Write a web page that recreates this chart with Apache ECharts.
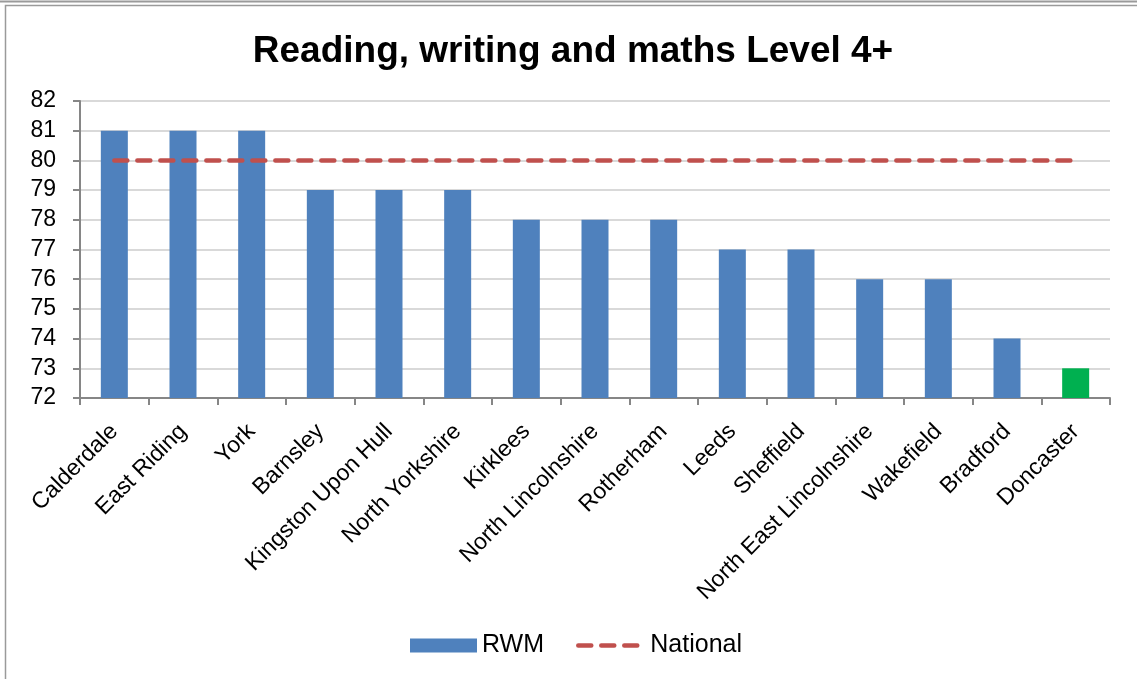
<!DOCTYPE html>
<html>
<head>
<meta charset="utf-8">
<script src="https://cdn.jsdelivr.net/npm/echarts@6/dist/echarts.min.js"></script>
<style>
  html, body { margin: 0; padding: 0; background: #fff; }
  #chart { width: 1137px; height: 679px; }
</style>
</head>
<body>
<div id="chart"></div>
<script>
// Local authorities, ordered by result
const categories = ['Calderdale', 'East Riding', 'York', 'Barnsley', 'Kingston Upon Hull',
  'North Yorkshire', 'Kirklees', 'North Lincolnshire', 'Rotherham', 'Leeds', 'Sheffield',
  'North East Lincolnshire', 'Wakefield', 'Bradford', 'Doncaster'];
// Percentage reaching Level 4+ in reading, writing and maths
const rwmValues = [81, 81, 81, 79, 79, 79, 78, 78, 78, 77, 77, 76, 76, 74, 73];
// National average
const nationalValues = [80, 80, 80, 80, 80, 80, 80, 80, 80, 80, 80, 80, 80, 80, 80];
// Y axis range
const yMin = 72, yMax = 82, yStep = 1;
const highlighted = 'Doncaster';

const FONT = 'Liberation Sans, Arial, sans-serif';
const nationalLine = { color: '#C0504D', width: 4.5, type: [13, 10], cap: 'round' };
const chart = echarts.init(document.getElementById('chart'));

chart.setOption({
  animation: false,
  backgroundColor: '#fff',
  title: {
    text: 'Reading, writing and maths Level 4+',
    left: 568, top: 28, textAlign: 'center',
    textStyle: { fontFamily: FONT, fontSize: 37, fontWeight: 'bold', color: '#000' }
  },
  graphic: [
    { type: 'line', shape: { x1: 0, y1: 1.5, x2: 1137, y2: 1.5 }, style: { stroke: '#9a9a9a', lineWidth: 2 } },
    { type: 'rect', shape: { x: 5.5, y: 5.5, width: 1140, height: 700 }, style: { fill: 'none', stroke: '#9a9a9a', lineWidth: 1.5 } }
  ],
  legend: {
    bottom: 16, left: 405,
    itemWidth: 67, itemHeight: 14, itemGap: 32,
    textStyle: { fontFamily: FONT, fontSize: 25, color: '#000' },
    data: [
      { name: 'RWM', icon: 'rect' },
      { name: 'National', itemStyle: { opacity: 0 }, lineStyle: nationalLine }
    ]
  },
  grid: { left: 80, right: 27, top: 101, bottom: 281, containLabel: false },
  xAxis: {
    type: 'category',
    data: categories,
    axisLine: { lineStyle: { color: '#868686', width: 2 } },
    axisTick: { show: true, alignWithLabel: false, length: 7, lineStyle: { color: '#868686', width: 2 } },
    axisLabel: { interval: 0, rotate: 45, fontFamily: FONT, fontSize: 23, color: '#000', margin: 30 }
  },
  yAxis: {
    type: 'value',
    min: yMin, max: yMax, interval: yStep,
    axisLine: { show: true, lineStyle: { color: '#868686', width: 2 } },
    axisTick: { show: true, inside: false, length: 7, lineStyle: { color: '#868686', width: 2 } },
    axisLabel: { fontFamily: FONT, fontSize: 23, color: '#000', margin: 24 },
    splitLine: { lineStyle: { color: '#D9D9D9', width: 2 } }
  },
  series: [
    {
      name: 'RWM',
      type: 'bar',
      barWidth: 27,
      itemStyle: { color: '#4F81BD' },
      data: rwmValues.map((v, i) => categories[i] === highlighted
        ? { value: v, itemStyle: { color: '#00B050' } }
        : v)
    },
    {
      name: 'National',
      type: 'line',
      symbol: 'none',
      lineStyle: nationalLine,
      itemStyle: { color: '#C0504D' },
      data: nationalValues,
      z: 5
    }
  ]
});
</script>
</body>
</html>
